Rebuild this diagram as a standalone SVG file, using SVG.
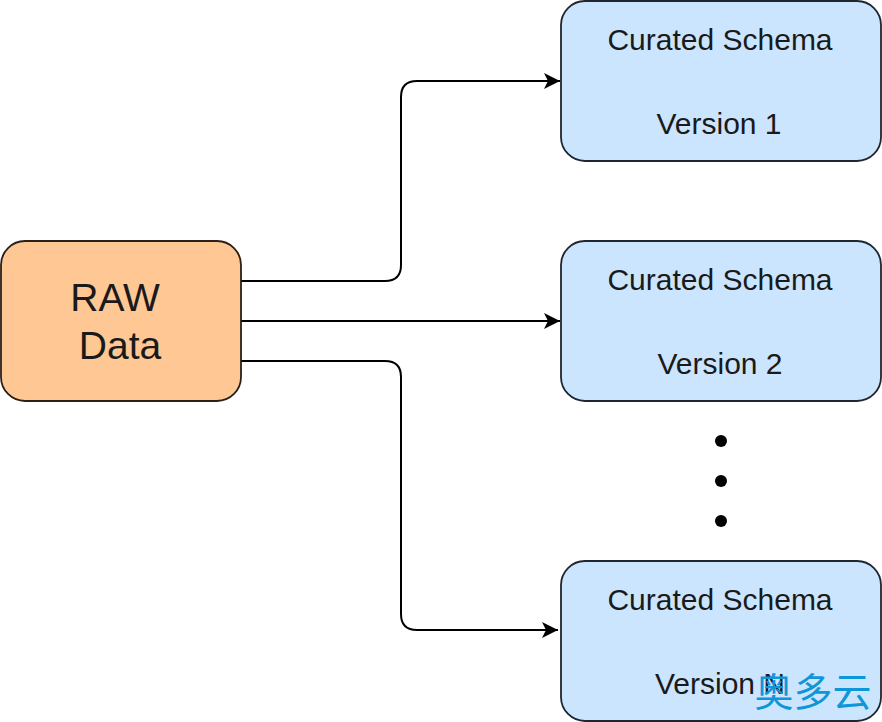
<svg xmlns="http://www.w3.org/2000/svg" width="882" height="722" viewBox="0 0 882 722">
<style>
.sch{fill:#cce5ff;stroke:#20262e;stroke-width:1.8}
.raw{fill:#ffc794;stroke:#2a2018;stroke-width:1.8}
.t{font-family:"Liberation Sans",Arial,sans-serif;font-size:30px;fill:#1a1a1a;text-anchor:middle}
.b{font-size:39px}
.c{fill:none;stroke:#000;stroke-width:2;marker-end:url(#a)}
.w{font-family:"Noto Sans CJK SC","Noto Sans",sans-serif;font-size:39px;fill:#0f96d8;text-anchor:middle}
</style>
<defs><marker id="a" markerUnits="userSpaceOnUse" markerWidth="18" markerHeight="18" refX="16" refY="8" orient="auto"><path d="M0 0L16 8L0 16L4 8Z" fill="#000"/></marker></defs>
<rect width="882" height="722" fill="#fff"/>
<g id="connectors">
<path class="c" d="M241 281H385Q401 281 401 265V97Q401 81 417 81H560"/>
<path class="c" d="M241 321H560"/>
<path class="c" d="M241 361H385Q401 361 401 377V614Q401 630 417 630H558"/>
</g>
<g id="raw"><rect class="raw" x="1" y="241" width="240" height="160" rx="24"/><text class="t b" x="115" y="311">RAW</text><text class="t b" x="120" y="359">Data</text></g>
<g id="schema1"><rect class="sch" x="561" y="1" width="320" height="160" rx="24"/><text class="t" x="720" y="50">Curated Schema</text><text class="t" x="719" y="134">Version 1</text></g>
<g id="schema2"><rect class="sch" x="561" y="241" width="320" height="160" rx="24"/><text class="t" x="720" y="290">Curated Schema</text><text class="t" x="720" y="374">Version 2</text></g>
<g id="schemaN"><rect class="sch" x="561" y="561" width="320" height="160" rx="24"/><text class="t" x="720" y="610">Curated Schema</text><text class="t" x="720" y="694">Version N</text></g>
<g id="dots" fill="#000"><circle cx="721" cy="441" r="6"/><circle cx="721" cy="481" r="6"/><circle cx="721" cy="521" r="6"/></g>
<text class="w" x="813" y="706">奥多云</text>
</svg>
